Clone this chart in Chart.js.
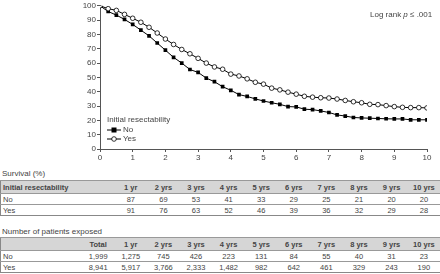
<!DOCTYPE html>
<html>
<head>
<meta charset="utf-8">
<script src="https://cdn.jsdelivr.net/npm/chart.js@4.4.1/dist/chart.umd.min.js"></script>
<style>
  body { margin: 0; width: 440px; height: 274px; background: #fff; font-family: "Liberation Sans", Arial, sans-serif; color: #444; position: relative; overflow: hidden; }
  #wrap { position: absolute; left: 0; top: 0; width: 440px; height: 162px; }
  .note { position: absolute; font-size: 8px; color: #444; }
  .legend { position: absolute; left: 107px; top: 115px; font-size: 8px; line-height: 9.5px; color: #444; }
  .legend svg { vertical-align: -1px; margin-right: 2px; }
  table { position: absolute; left: 0; width: 440px; border-collapse: collapse; table-layout: fixed; font-size: 7.5px; color: #444; border: 1px solid #888; }
  td, th { padding: 0 3px; height: 10px; border-top: 1px solid #999; text-align: center; white-space: nowrap; }
  th { background: #d6d6d6; font-weight: bold; height: 12px; }
  td.lab, th.lab { text-align: left; padding-left: 2px; }
</style>
</head>
<body>
<div id="wrap"><canvas id="km" width="440" height="162"></canvas></div>
<div class="note" style="left:370px; top:10px;">Log rank <i>p</i> &le; .001</div>
<div class="legend">
  <div>Initial resectability</div>
  <div><svg width="14" height="6"><line x1="0" y1="3" x2="14" y2="3" stroke="#000" stroke-width="1"/><rect x="4.5" y="0.5" width="5" height="5" fill="#000"/></svg>No</div>
  <div><svg width="14" height="6"><line x1="0" y1="3" x2="14" y2="3" stroke="#000" stroke-width="1"/><circle cx="7" cy="3" r="2.3" fill="#fff" stroke="#000" stroke-width="0.8"/></svg>Yes</div>
</div>

<div class="note" style="left:2px; top:169px;">Survival (%)</div>
<table id="survTable" style="top:180px;"></table>
<div class="note" style="left:2px; top:227px;">Number of patients exposed</div>
<table id="expTable" style="top:237px;"></table>

<script>
// survival curves, read every quarter year
const years = [0, 0.25, 0.5, 0.75, 1, 1.25, 1.5, 1.75, 2, 2.25, 2.5, 2.75, 3, 3.25, 3.5, 3.75, 4, 4.25, 4.5, 4.75, 5,
               5.25, 5.5, 5.75, 6, 6.25, 6.5, 6.75, 7, 7.25, 7.5, 7.75, 8, 8.25, 8.5, 8.75, 9, 9.25, 9.5, 9.75, 10];
const survivalNo = [100, 96, 93.5, 90.5, 87, 83, 79, 74, 69, 64, 60, 55.5, 53.5, 49.5, 47, 43.5, 41, 38, 36.7, 35, 33.5,
                    32.3, 31.2, 29.6, 29.4, 27.8, 27.5, 26.6, 25.5, 23.8, 23, 22, 21.7, 21.5, 21.3, 21.1, 21, 21, 20.4, 20.4, 20.4];
const survivalYes = [100, 98, 96.8, 94, 91.3, 88.5, 85, 81, 76.8, 73, 69.5, 66.5, 63.3, 60, 57.3, 55.7, 52.3, 51, 49, 46.6, 45.3,
                     42.5, 41.3, 39.7, 38.3, 36.8, 36.2, 35.8, 35.6, 34.9, 33.9, 33, 32.3, 31.2, 31, 30.3, 29.6, 29.1, 28.9, 28.9, 28.7];

// tables
const yearLabels = ['1 yr', '2 yrs', '3 yrs', '4 yrs', '5 yrs', '6 yrs', '7 yrs', '8 yrs', '9 yrs', '10 yrs'];
const survNoRow = ['87', '69', '53', '41', '33', '29', '25', '21', '20', '20'];
const survYesRow = ['91', '76', '63', '52', '46', '39', '36', '32', '29', '28'];
const expNoRow = ['1,999', '1,275', '745', '426', '223', '131', '84', '55', '40', '31', '23'];
const expYesRow = ['8,941', '5,917', '3,766', '2,333', '1,482', '982', '642', '461', '329', '243', '190'];

function buildTable(el, firstHead, firstWidth, heads, rows) {
    let html = '<colgroup><col style="width:' + firstWidth + 'px">';
    heads.forEach(function () { html += '<col style="width:32.6px">'; });
    html += '</colgroup><tr><th class="lab">' + firstHead + '</th>';
    heads.forEach(function (h) { html += '<th>' + h + '</th>'; });
    html += '</tr>';
    rows.forEach(function (r) {
        html += '<tr><td class="lab">' + r[0] + '</td>';
        r[1].forEach(function (v) { html += '<td>' + v + '</td>'; });
        html += '</tr>';
    });
    el.innerHTML = html;
}

buildTable(document.getElementById('survTable'), 'Initial resectability', 114, yearLabels,
    [['No', survNoRow], ['Yes', survYesRow]]);
buildTable(document.getElementById('expTable'), '', 81.4, ['Total'].concat(yearLabels),
    [['No', expNoRow], ['Yes', expYesRow]]);

const kmCtx = document.getElementById('km');
const axisColor = '#555';
const tickFont = { family: '"Liberation Sans", Arial, sans-serif', size: 8 };

new Chart(kmCtx, {
    type: 'line',
    data: {
        datasets: [{
            label: 'Yes',
            data: years.map(function (x, i) { return { x: x, y: survivalYes[i] }; }),
            borderColor: '#000',
            borderWidth: 1,
            pointStyle: 'circle',
            pointRadius: 2.3,
            pointBorderWidth: 0.8,
            pointBackgroundColor: '#fff',
            pointBorderColor: '#000',
            tension: 0
        }, {
            label: 'No',
            data: years.map(function (x, i) { return { x: x, y: survivalNo[i] }; }),
            borderColor: '#000',
            borderWidth: 1,
            pointStyle: 'rect',
            pointRadius: 2.6,
            pointBorderWidth: 0,
            pointBackgroundColor: '#000',
            pointBorderColor: '#000',
            tension: 0
        }]
    },
    options: {
        responsive: false,
        animation: false,
        maintainAspectRatio: false,
        layout: { padding: { top: 4, right: 13, left: 0, bottom: 0 } },
        plugins: {
            legend: { display: false },
            tooltip: { enabled: false }
        },
        scales: {
            x: {
                type: 'linear',
                min: 0,
                max: 10,
                ticks: { stepSize: 1, color: '#444', font: tickFont, padding: 1, maxRotation: 0 },
                grid: { drawOnChartArea: false, tickLength: 3, color: axisColor },
                border: { color: axisColor },
                afterFit: function (scale) { scale.height = 13; }
            },
            y: {
                min: 0,
                max: 100,
                ticks: { stepSize: 10, color: '#444', font: tickFont, padding: 1 },
                grid: { drawOnChartArea: false, tickLength: 3, color: axisColor },
                border: { color: axisColor },
                afterFit: function (scale) { scale.width = 100; }
            }
        }
    }
});
</script>
</body>
</html>
